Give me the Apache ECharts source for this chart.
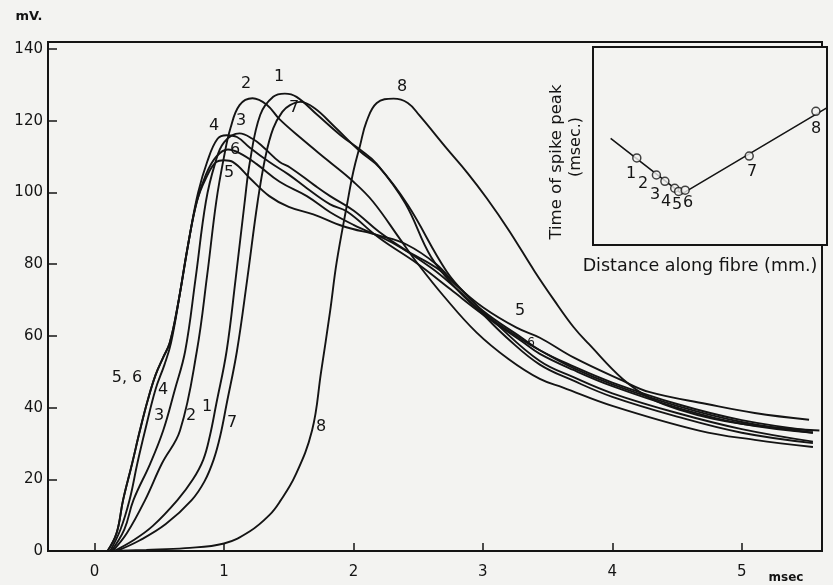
<!DOCTYPE html>
<html><head><meta charset="utf-8">
<script src="https://cdn.jsdelivr.net/npm/echarts/dist/echarts.min.js"></script>
<style>html,body{margin:0;padding:0;background:#f3f3f1}#c{width:833px;height:585px}</style>
</head><body><div id="c"></div><script>
// ---- main chart data: [time (msec), potential (mV)] ----
const xTicks = [0, 1, 2, 3, 4, 5];
const yTicks = [0, 20, 40, 60, 80, 100, 120, 140];
const curve1 = [[0.15,0],[0.3,3],[0.45,7],[0.64,14.2],[0.76,20],[0.84,25.5],[0.89,32],[0.94,41],[1.02,55.8],[1.09,76],[1.16,97.5],[1.2,108.6],[1.28,121.7],[1.38,126.7],[1.47,127.6],[1.56,126.7],[1.72,121.7],[1.9,116],[2.05,112],[2.18,108],[2.4,97],[2.6,82],[2.8,73],[3.0,66],[3.2,59],[3.44,52],[3.7,47.5],[4.0,43],[4.5,37.5],[5.0,33],[5.55,30.1]];
const curve2 = [[0.14,0],[0.25,5],[0.39,14.2],[0.52,24.4],[0.66,33.6],[0.79,55.8],[0.87,77],[0.94,97.5],[1.0,110],[1.05,118],[1.12,124.4],[1.22,126.3],[1.33,124.5],[1.43,120.4],[1.6,115],[1.8,109],[2.0,103],[2.15,97.5],[2.36,87],[2.5,80],[2.7,71],[2.95,61],[3.2,53.5],[3.44,48],[3.62,45.6],[4.0,40.5],[4.67,33.6],[5.1,31],[5.55,29]];
const curve3 = [[0.13,0],[0.23,6],[0.3,14.2],[0.43,24.4],[0.53,33.6],[0.62,45],[0.7,55.8],[0.78,76],[0.86,97.5],[0.93,108],[1.0,114],[1.12,116.5],[1.22,115],[1.3,112.8],[1.43,108.5],[1.51,107],[1.7,102],[1.82,99],[2.0,95],[2.2,89],[2.4,84],[2.64,79],[2.8,74],[3.0,67],[3.3,59.5],[3.44,56],[3.7,51.5],[4.0,47],[4.5,41],[5.0,36.5],[5.55,33.5]];
const curve4 = [[0.12,0],[0.2,6],[0.27,14.2],[0.33,24.4],[0.39,33.6],[0.47,45],[0.54,52],[0.59,58],[0.66,72],[0.74,89],[0.8,100],[0.87,108.6],[0.95,115],[1.02,116],[1.1,115.5],[1.2,112.5],[1.35,108.5],[1.5,105],[1.64,101.2],[1.82,96.7],[1.95,94.7],[2.2,87.3],[2.5,80],[2.75,73],[3.0,66],[3.3,58.5],[3.44,55],[3.7,50.5],[4.0,46],[4.5,40],[5.0,35.5],[5.55,33]];
const curve5 = [[0.1,0],[0.17,5],[0.22,14.2],[0.29,24.4],[0.35,33.6],[0.41,42],[0.47,49],[0.53,54],[0.58,58],[0.64,68],[0.72,85],[0.79,97.5],[0.86,104],[0.94,108.5],[1.0,109],[1.07,108.5],[1.2,104],[1.35,99],[1.5,96],[1.69,93.9],[1.92,90.6],[2.2,88],[2.41,85.5],[2.64,80],[2.8,74],[3.0,68],[3.26,62.3],[3.44,59.5],[3.7,54],[4.08,47.5],[4.29,44.3],[4.73,41],[5.1,38.5],[5.52,36.6]];
const curve6 = [[0.1,0],[0.17,5],[0.22,14.2],[0.29,24.4],[0.35,33.6],[0.41,42],[0.47,49],[0.53,54],[0.58,58],[0.64,68],[0.72,85],[0.79,97.5],[0.86,105],[0.94,110],[1.03,112],[1.12,111],[1.25,108],[1.43,103],[1.64,99],[1.82,94.5],[2.0,91],[2.3,86],[2.6,79],[2.8,73],[3.0,66.5],[3.3,59],[3.44,56],[3.7,51],[4.0,46.5],[4.5,40.5],[5.0,36],[5.55,33]];
const curve7 = [[0.17,0],[0.35,3],[0.55,7.5],[0.75,14.2],[0.85,19.5],[0.92,25.5],[0.97,32],[1.02,41],[1.1,55.8],[1.18,76],[1.26,97.5],[1.32,110],[1.38,117.9],[1.45,122.5],[1.51,124.4],[1.59,125.3],[1.7,123.5],[1.85,118.5],[2.05,111.5],[2.2,107],[2.42,96.5],[2.72,78],[2.9,70.5],[3.1,63.5],[3.44,53],[3.7,48.5],[4.0,44],[4.5,38.5],[5.0,34],[5.55,30.5]];
const curve8 = [[0.15,0],[0.4,0.3],[0.7,0.8],[1.0,2.1],[1.2,5.5],[1.35,10],[1.43,13.7],[1.55,21],[1.68,33.6],[1.75,50],[1.82,67],[1.87,80.5],[1.95,96.6],[2.0,106],[2.05,113],[2.1,119.7],[2.18,125],[2.31,126.2],[2.42,125],[2.51,121.5],[2.72,112.3],[2.88,105.5],[3.03,98.4],[3.2,89.5],[3.4,78],[3.55,70],[3.7,62.5],[3.82,57.7],[4.08,48],[4.3,42.5],[4.54,39.2],[4.78,36.9],[5.1,35],[5.6,33.6]];
// ---- inset data: distance along fibre vs time of spike peak (arbitrary units) ----
const insetTicks = [1, 2, 3];
const insetPoints = [[0.75,1.41],[1.05,1.14],[1.18,1.04],[1.33,0.93],[1.39,0.88],[1.49,0.9],[2.47,1.44],[3.49,2.15]];
const insetLine = [[0.35,1.72],[1.44,0.84],[3.65,2.2]];

const INK = '#141414', BG = '#f3f3f1';
const FONT = 'DejaVu Sans';
const curves = [curve1, curve2, curve3, curve4, curve5, curve6, curve7, curve8];

const chart = echarts.init(document.getElementById('c'));
function txt(t, x, y, size, weight, rot) {
  return {type:'text', x:x, y:y, z:50, rotation:rot||0,
    style:{text:t, fontSize:size, fontWeight:weight||'normal', fontFamily:FONT, fill:INK, align:'center', verticalAlign:'middle'}};
}
const labels = [
  ['2',246,84],['1',279,77],['8',402,87],['4',214,126],['3',241,121],['6',235,150],['5',229,173],['7',294,108],
  ['5, 6',127,378],['4',163,390],['3',159,416],['2',191,416],['1',207,407],['7',232,423],['8',321,427],
  ['5',520,311]
];
const insetLabels = [['1',631,174],['2',643,184],['3',655,195],['4',666,202],['5',677,205],['6',688,203],['7',752,172],['8',816,129]];
const graphics = [];
labels.forEach(l => graphics.push(txt(l[0], l[1], l[2], 16)));
graphics.push(txt('6', 531, 343, 12));
insetLabels.forEach(l => graphics.push(txt(l[0], l[1], l[2], 16)));
graphics.push(txt('mV.', 29, 17, 13, 'bold'));
graphics.push(txt('msec', 786, 578, 12, 'bold'));
graphics.push(txt('Distance along fibre (mm.)', 700, 266, 17.5));
graphics.push(txt('Time of spike peak', 557, 162, 16.5, 'normal', Math.PI/2));
graphics.push(txt('(msec.)', 576, 147, 16, 'normal', Math.PI/2));

const axisCommon = {
  axisLine:{show:true, onZero:false, lineStyle:{color:INK, width:2}},
  splitLine:{show:false}
};

chart.setOption({
  animation:false,
  backgroundColor:BG,
  grid:[
    {left:48, top:42, width:774, height:509, show:true, borderColor:INK, borderWidth:2},
    {left:593, top:47, width:234, height:198, show:true, borderColor:INK, borderWidth:2, backgroundColor:BG, z:10}
  ],
  xAxis:[
    Object.assign({type:'value', gridIndex:0, min:-0.36, max:5.62,
      axisTick:{inside:true, length:8, customValues:xTicks, lineStyle:{color:INK, width:1.5}},
      axisLabel:{customValues:xTicks, color:INK, fontSize:15, fontFamily:FONT, margin:14}}, axisCommon),
    Object.assign({type:'value', gridIndex:1, min:0.08, max:3.66,
      axisTick:{inside:true, length:7, customValues:insetTicks, lineStyle:{color:INK, width:1.5}},
      axisLabel:{show:false}}, axisCommon)
  ],
  yAxis:[
    Object.assign({type:'value', gridIndex:0, min:0, max:142,
      axisTick:{inside:true, length:9, customValues:yTicks, lineStyle:{color:INK, width:1.5}},
      axisLabel:{customValues:yTicks, color:INK, fontSize:15, fontFamily:FONT, margin:5}}, axisCommon),
    Object.assign({type:'value', gridIndex:1, min:0.03, max:3.17,
      axisTick:{inside:true, length:7, customValues:insetTicks, lineStyle:{color:INK, width:1.5}},
      axisLabel:{show:false}}, axisCommon)
  ],
  series: curves.map((c, i) => ({
    name:'Curve ' + (i+1), type:'line', xAxisIndex:0, yAxisIndex:0, data:c,
    showSymbol:false, smooth:0.4,
    lineStyle:{color:INK, width:1.9}
  })).concat([
    {name:'inset line', type:'line', xAxisIndex:1, yAxisIndex:1, data:insetLine, showSymbol:false, z:11,
      lineStyle:{color:INK, width:1.6}},
    {name:'inset points', type:'scatter', xAxisIndex:1, yAxisIndex:1, data:insetPoints, z:12,
      symbol:'circle', symbolSize:8, itemStyle:{color:BG, borderColor:INK, borderWidth:1.5}}
  ]),
  graphic: graphics
});
</script></body></html>
